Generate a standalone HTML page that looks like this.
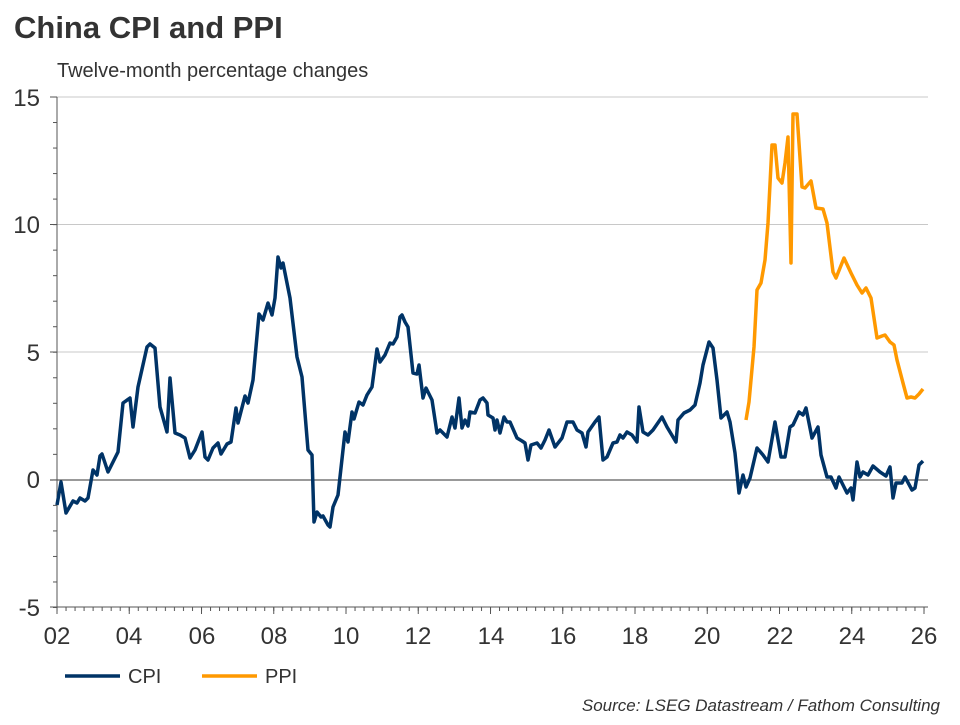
<!DOCTYPE html>
<html><head><meta charset="utf-8"><style>
body{margin:0;background:#fff;width:960px;height:720px;overflow:hidden;font-family:"Liberation Sans",Arial,sans-serif}
</style></head><body>
<svg width="960" height="720" xmlns="http://www.w3.org/2000/svg" font-family="Liberation Sans, Arial, sans-serif">
<defs>
<pattern id="xm" x="56.5" y="0" width="9.03125" height="10" patternUnits="userSpaceOnUse"><rect x="0" y="0" width="1" height="10" fill="#555"/></pattern>
<pattern id="xM" x="56.5" y="0" width="72.25" height="10" patternUnits="userSpaceOnUse"><rect x="0" y="0" width="1" height="10" fill="#555"/></pattern>
<pattern id="ym" x="0" y="96.5" width="10" height="25.525" patternUnits="userSpaceOnUse"><rect x="0" y="0" width="10" height="1" fill="#555"/></pattern>
</defs>
<text x="14" y="38" font-size="31" font-weight="bold" fill="#333">China CPI and PPI</text>
<text x="57" y="77" font-size="20" fill="#333">Twelve-month percentage changes</text>
<g stroke="#c8c8c8" stroke-width="1">
<line x1="57" y1="97" x2="928" y2="97"/><line x1="57" y1="224.5" x2="928" y2="224.5"/><line x1="57" y1="352" x2="928" y2="352"/>
</g>
<line x1="50" y1="480" x2="928" y2="480" stroke="#333" stroke-width="1"/>
<rect x="53" y="96" width="4" height="513" fill="url(#ym)"/>
<g stroke="#555" stroke-width="1"><line x1="50" y1="97" x2="57" y2="97"/><line x1="50" y1="224.5" x2="57" y2="224.5"/><line x1="50" y1="352" x2="57" y2="352"/><line x1="50" y1="607" x2="57" y2="607"/></g>
<line x1="57" y1="97" x2="57" y2="607" stroke="#555" stroke-width="1"/>
<line x1="50" y1="607" x2="928" y2="607" stroke="#555" stroke-width="1"/>
<rect x="56" y="607" width="874" height="4" fill="url(#xm)"/>
<rect x="56" y="607" width="874" height="7" fill="url(#xM)"/>
<g font-size="24" fill="#333" text-anchor="end">
<text x="40" y="106">15</text><text x="40" y="233">10</text><text x="40" y="361">5</text><text x="40" y="488">0</text><text x="40" y="616">-5</text>
</g>
<g font-size="24" fill="#333" text-anchor="middle">
<text x="57" y="644">02</text><text x="129" y="644">04</text><text x="202" y="644">06</text><text x="274" y="644">08</text><text x="346" y="644">10</text><text x="418" y="644">12</text><text x="491" y="644">14</text><text x="563" y="644">16</text><text x="635" y="644">18</text><text x="707" y="644">20</text><text x="780" y="644">22</text><text x="852" y="644">24</text><text x="924" y="644">26</text>
</g>
<polyline fill="none" stroke="#003366" stroke-width="3.5" stroke-linejoin="round" points="57,505 61,482 66,513 73,501 77,503 80,498 85,501 88,498 93,470 97,475 100,456 102,454 108,472 118,452 123,403 130,398 133,427 138,387 147,347 150,344 155,348 160,407 167,432 170,378 175,433 180,435 185,438 190,458 195,450 202,432 205,457 208,460 213,448 218,443 221,454 227,444 231,442 236,408 238,423 245,396 248,403 253,380 259,314 263,320 268,303 272,315 275,298 278,257 281,268 283,263 290,298 297,357 302,377 308,450 312,455 314,522 317,512 321,517 323,516 328,525 330,527 333,507 338,495 345,432 348,442 352,412 354,419 359,402 363,405 367,395 372,387 377,349 380,362 385,355 390,343 393,344 397,337 400,317 402,315 405,322 408,327 413,373 417,374 419,365 423,398 426,388 432,400 437,433 440,430 447,437 452,417 455,428 459,398 462,428 465,420 468,426 470,412 475,413 480,400 483,398 487,403 488,415 493,418 495,430 497,420 500,433 504,417 507,422 510,422 517,438 522,441 525,443 528,460 531,445 537,443 541,448 545,440 549,430 555,447 562,438 567,422 573,422 577,430 582,433 586,447 588,432 595,422 599,417 603,460 607,457 613,443 617,442 620,435 623,438 627,432 632,435 637,442 639,407 643,432 648,435 653,430 662,417 667,427 676,442 678,420 684,413 690,410 695,405 700,383 703,365 709,342 713,348 717,380 721,418 727,412 730,422 735,453 739,493 743,475 746,487 750,478 757,448 763,455 768,462 775,422 781,457 785,457 790,427 793,425 799,412 803,415 806,408 812,438 818,427 821,455 827,477 831,477 836,488 839,477 847,493 851,488 853,500 857,462 860,477 863,472 868,475 873,466 880,472 886,476 890,467 893,498 896,483 902,483 905,477 912,490 915,488 919,465 923,461"/>
<polyline fill="none" stroke="#ff9900" stroke-width="3.5" stroke-linejoin="round" points="746,420 749,402 754,347 757,290 761,283 765,260 768,223 772,145 775,145 778,178 782,183 785,163 788,137 791,263 793,114 797,114 802,187 805,188 811,181 816,208 823,209 827,223 833,272 836,278 844,258 851,273 857,285 862,293 866,288 871,298 877,338 882,336 885,335 890,342 894,345 897,360 903,383 907,398 911,397 915,398 919,394 923,389"/>
<line x1="65" y1="676" x2="120" y2="676" stroke="#003366" stroke-width="3.5"/>
<text x="128" y="683" font-size="20" fill="#333">CPI</text>
<line x1="202" y1="676" x2="257" y2="676" stroke="#ff9900" stroke-width="3.5"/>
<text x="265" y="683" font-size="20" fill="#333">PPI</text>
<text x="940" y="711" font-size="17" font-style="italic" fill="#333" text-anchor="end">Source: LSEG Datastream / Fathom Consulting</text>
</svg>
</body></html>
